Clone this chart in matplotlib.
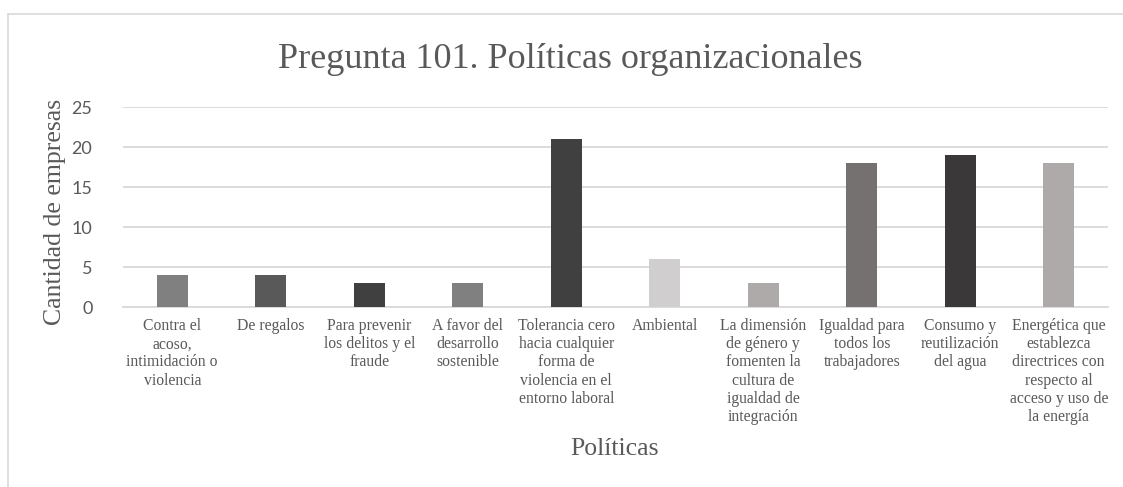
import matplotlib
matplotlib.use("Agg")
import matplotlib.pyplot as plt
from matplotlib.lines import Line2D

categories = [
    "Contra el\nacoso,\nintimidación o\nviolencia",
    "De regalos",
    "Para prevenir\nlos delitos y el\nfraude",
    "A favor del\ndesarrollo\nsostenible",
    "Tolerancia cero\nhacia cualquier\nforma de\nviolencia en el\nentorno laboral",
    "Ambiental",
    "La dimensión\nde género y\nfomenten la\ncultura de\nigualdad de\nintegración",
    "Igualdad para\ntodos los\ntrabajadores",
    "Consumo y\nreutilización\ndel agua",
    "Energética que\nestablezca\ndirectrices con\nrespecto al\nacceso y uso de\nla energía",
]
values = [4, 4, 3, 3, 21, 6, 3, 18, 19, 18]
colors = ["#808080", "#595959", "#404040", "#808080", "#404040",
          "#d0cece", "#aeaaaa", "#757171", "#3a3838", "#aeaaaa"]
yticks = [0, 5, 10, 15, 20, 25]

W, H = 1123, 487
fig = plt.figure(figsize=(W / 100, H / 100), dpi=100)
fig.patch.set_facecolor("white")

# outer chart frame (cropped on right and bottom): top and left edges only
fy = 1 - 13.5 / H
fx = 7.5 / W
fig.add_artist(Line2D([fx, 1.0], [fy, fy], transform=fig.transFigure,
                      color="#d9d9d9", linewidth=1.2))
fig.add_artist(Line2D([fx, fx], [0.0, fy], transform=fig.transFigure,
                      color="#d9d9d9", linewidth=1.2))

ax = fig.add_axes([123 / W, 1 - 307 / H, (1108 - 123) / W, 200 / H])
x = list(range(len(categories)))
ax.bar(x, values, width=0.315, color=colors, zorder=3)
ax.set_xlim(-0.5, len(categories) - 0.5)
ax.set_ylim(0, 25)
ax.set_yticks(yticks)
ax.set_yticklabels([str(v) for v in yticks], fontfamily="Lato", fontsize=13, color="#595959")
ax.set_xticks(x)
ax.set_xticklabels(categories, fontfamily="Liberation Serif", fontsize=11.3,
                   color="#595959", linespacing=1.18, va="top")
ax.tick_params(axis="both", length=0)
ax.tick_params(axis="x", pad=8)
ax.tick_params(axis="y", pad=22)
ax.grid(axis="y", color="#d9d9d9", linewidth=1.3, zorder=0)
for s in ["top", "right", "left"]:
    ax.spines[s].set_visible(False)
ax.spines["bottom"].set_color("#d9d9d9")
ax.spines["bottom"].set_linewidth(1.3)
ax.set_facecolor("white")

fig.text(570 / W, 1 - 68 / H, "Pregunta 101. Políticas organizacionales",
         fontfamily="Liberation Serif", fontsize=26, color="#595959",
         ha="center", va="baseline")
fig.text(55 / W, 1 - 212 / H, "Cantidad de empresas", rotation=90,
         fontfamily="Liberation Serif", fontsize=18.5, color="#595959",
         ha="center", va="center")
fig.text(615 / W, 1 - 455 / H, "Políticas",
         fontfamily="Liberation Serif", fontsize=18.5, color="#595959",
         ha="center", va="baseline")

fig.savefig("out.png", dpi=100, facecolor="white")
